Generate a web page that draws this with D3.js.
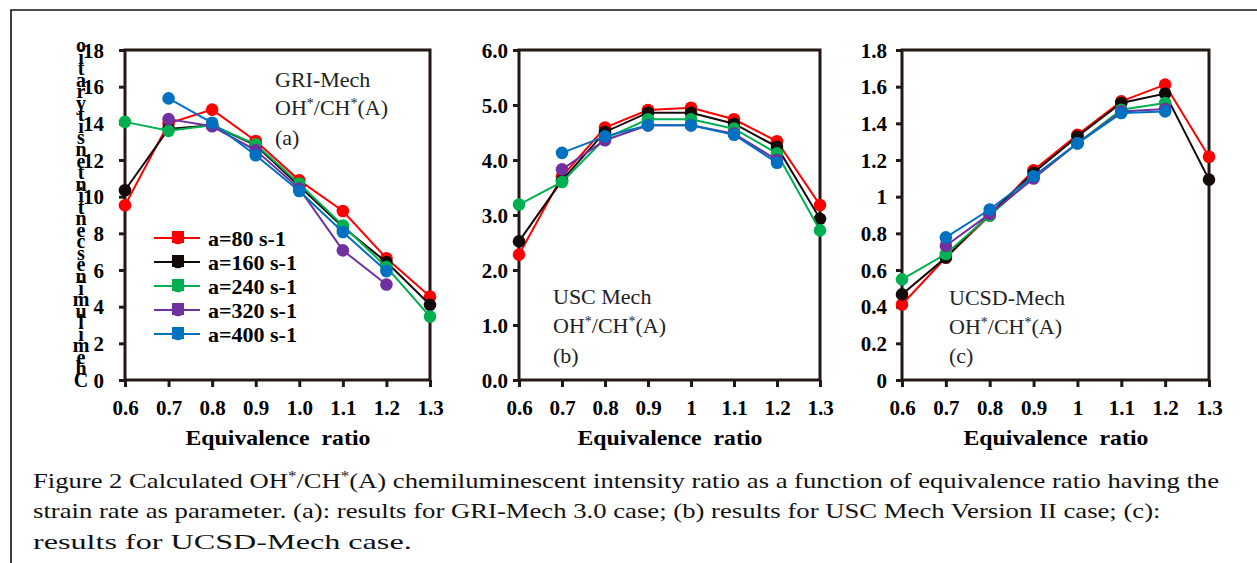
<!DOCTYPE html>
<html><head><meta charset="utf-8">
<script src="https://cdn.jsdelivr.net/npm/d3@7"></script>
<style>body{margin:0;background:#fff}svg{display:block}svg text{font-family:"Liberation Serif","Times New Roman","DejaVu Serif",serif}</style>
</head><body>
<svg id="c" width="1257" height="563"></svg>
<script>
const phi = [0.6,0.7,0.8,0.9,1.0,1.1,1.2,1.3];
const seriesNames = ["a=80 s-1","a=160 s-1","a=240 s-1","a=320 s-1","a=400 s-1"];
const seriesColors = ["#ff0000","#140a0a","#00b050","#7030a0","#0070c0"];
// Panel (a) GRI-Mech
const gri80  = [9.53,14.0,14.75,13.04,10.89,9.22,6.64,4.55];
const gri160 = [10.35,13.7,13.9,12.8,10.58,8.34,6.43,4.1];
const gri240 = [14.08,13.59,13.9,12.86,10.71,8.43,6.16,3.46];
const gri320 = [null,14.23,13.84,12.53,10.44,7.07,5.21,null];
const gri400 = [null,15.36,14.03,12.26,10.31,8.07,5.94,null];
// Panel (b) USC Mech
const usc80  = [2.28,3.7,4.59,4.91,4.95,4.74,4.34,3.18];
const usc160 = [2.52,3.63,4.51,4.86,4.86,4.66,4.24,2.93];
const usc240 = [3.19,3.6,4.39,4.74,4.74,4.57,4.12,2.72];
const usc320 = [null,3.83,4.36,4.63,4.63,4.48,4.0,null];
const usc400 = [null,4.13,4.43,4.63,4.63,4.46,3.95,null];
// Panel (c) UCSD-Mech
const ucsd80  = [0.412,0.668,0.897,1.144,1.337,1.52,1.611,1.218];
const ucsd160 = [0.467,0.668,0.906,1.13,1.328,1.511,1.562,1.093];
const ucsd240 = [0.549,0.687,0.897,1.108,1.291,1.474,1.511,null];
const ucsd320 = [null,0.732,0.906,1.099,1.291,1.465,1.478,null];
const ucsd400 = [null,0.778,0.930,1.111,1.291,1.456,1.465,null];

const xTickA = ["0.6","0.7","0.8","0.9","1.0","1.1","1.2","1.3"];
const xTickBC = ["0.6","0.7","0.8","0.9","1","1.1","1.2","1.3"];
const yTickA = [0,2,4,6,8,10,12,14,16,18];
const yTickB = [0,1,2,3,4,5,6];
const yTickC = [0,0.2,0.4,0.6,0.8,1,1.2,1.4,1.6,1.8];
const yLabelA = ["0","2","4","6","8","10","12","14","16","18"];
const yLabelB = ["0.0","1.0","2.0","3.0","4.0","5.0","6.0"];
const yLabelC = ["0","0.2","0.4","0.6","0.8","1","1.2","1.4","1.6","1.8"];
const panelNotes = [["GRI-Mech","OH*/CH*(A)","(a)"],["USC Mech","OH*/CH*(A)","(b)"],["UCSD-Mech","OH*/CH*(A)","(c)"]];
const yAxisTitle = "Chemiluminescent intensity ratio";
const xAxisTitle = "Equivalence  ratio";
const caption = [
 [["Figure 2 Calculated OH",0],["*",1],["/CH",0],["*",1],["(A) chemiluminescent intensity ratio as a function of equivalence ratio having the",0]],
 [["strain rate as parameter. (a): results for GRI-Mech 3.0 case; (b) results for USC Mech Version II case; (c):",0]],
 [["results for UCSD-Mech case.",0]]
];
const captionWidths = [1187,1128,379];

const svg = d3.select("#c");
const axisCol = "#231815";

// stretch a text horizontally to a target width, anchored at its left x
function fitWidth(sel, x0, w){
  const n = sel.node(); const len = n.getComputedTextLength();
  if(len>0){ const s = w/len; sel.attr("transform",`translate(${x0},0) scale(${s},1) translate(${-x0},0)`); }
}

svg.append("path").attr("d","M1257,10H11V563").attr("fill","none").attr("stroke","#111").attr("stroke-width",1.6);

const panels = [
 {x0:125,x1:430,max:18,ticks:yTickA,labels:yLabelA,xl:xTickA,data:[gri80,gri160,gri240,gri320,gri400],lblGap:21,note:{x:275,y:[87,115,145]}},
 {x0:519,x1:820,max:6,ticks:yTickB,labels:yLabelB,xl:xTickBC,data:[usc80,usc160,usc240,usc320,usc400],lblGap:11,note:{x:553,y:[304,333,363]}},
 {x0:902,x1:1209,max:1.8,ticks:yTickC,labels:yLabelC,xl:xTickBC,data:[ucsd80,ucsd160,ucsd240,ucsd320,ucsd400],lblGap:15,note:{x:949,y:[305,334,363]}}
];
const yTop=50, yBot=380;

panels.forEach((p,pi)=>{
  const g = svg.append("g");
  const x = d3.scalePoint().domain(phi.map(String)).range([p.x0,p.x1]);
  const y = d3.scaleLinear().domain([0,p.max]).range([yBot,yTop]);
  g.append("rect").attr("x",p.x0).attr("y",yTop).attr("width",p.x1-p.x0).attr("height",yBot-yTop)
   .attr("fill","none").attr("stroke",axisCol).attr("stroke-width",3);
  const ya = d3.axisLeft(y).tickValues(p.ticks).tickSize(6).tickFormat((d,i)=>p.labels[i]);
  const yg = g.append("g").attr("transform",`translate(${p.x0},0)`).call(ya);
  yg.attr("font-family",null).attr("font-size",null);
  yg.select(".domain").remove();
  yg.selectAll("line").attr("stroke",axisCol).attr("stroke-width",3);
  yg.selectAll("text").attr("x",-p.lblGap).attr("dy","0.34em").attr("font-weight","bold").attr("font-size",21).attr("fill","#000");
  const xa = d3.axisBottom(x).tickSize(7).tickFormat((d,i)=>p.xl[i]);
  const xg = g.append("g").attr("transform",`translate(0,${yBot})`).call(xa);
  xg.attr("font-family",null).attr("font-size",null);
  xg.select(".domain").remove();
  xg.selectAll("line").attr("stroke",axisCol).attr("stroke-width",3);
  xg.selectAll("text").attr("y",20).attr("dy","0.71em").attr("font-weight","bold").attr("font-size",21).attr("fill","#000");
  const xt = g.append("text").attr("x",(p.x0+p.x1)/2 - 92).attr("y",445)
   .attr("font-weight","bold").attr("font-size",21)
   .style("white-space","pre").text(xAxisTitle);
  fitWidth(xt,(p.x0+p.x1)/2 - 92,185);
  panelNotes[pi].forEach((t,k)=>{
    const tx = g.append("text").attr("x",p.note.x).attr("y",p.note.y[k]).attr("font-size",22).attr("fill","#222");
    if(t.includes("*")){
      const parts = t.split("*");
      parts.forEach((s,j)=>{
        tx.append("tspan").text(s);
        if(j<parts.length-1) tx.append("tspan").attr("baseline-shift","super").attr("font-size",14).text("*");
      });
    } else tx.text(t);
  });
  p.data.forEach((vals,si)=>{
    const pts = phi.map((f,i)=>({f:String(f),v:vals[i]})).filter(d=>d.v!=null);
    const line = d3.line().x(d=>x(d.f)).y(d=>y(d.v));
    g.append("path").attr("d",line(pts)).attr("fill","none").attr("stroke",seriesColors[si]).attr("stroke-width",2);
    g.selectAll(null).data(pts).enter().append("circle")
     .attr("cx",d=>x(d.f)).attr("cy",d=>y(d.v)).attr("r",6.3).attr("fill",seriesColors[si]);
  });
});

const lg = svg.append("g");
seriesNames.forEach((n,i)=>{
  const yy = 238 + i*24;
  lg.append("line").attr("x1",154).attr("x2",200).attr("y1",yy).attr("y2",yy).attr("stroke",seriesColors[i]).attr("stroke-width",2);
  lg.append("rect").attr("x",172).attr("y",yy-7).attr("width",12).attr("height",12).attr("fill",seriesColors[i]);
  lg.append("circle").attr("cx",178).attr("cy",yy).attr("r",6.3).attr("fill",seriesColors[i]);
  lg.append("text").attr("x",208).attr("y",yy).attr("dy","0.35em").attr("font-weight","bold").attr("font-size",22).text(n);
});

const letters = yAxisTitle.replace(/ /g,"").split("");
const ly = d3.scaleLinear().domain([0,letters.length-1]).range([380,45]);
svg.append("g").selectAll("text").data(letters).enter().append("text")
  .attr("x",81).attr("y",(d,i)=>ly(i)).attr("dy","0.35em").attr("text-anchor","middle")
  .attr("font-weight","bold").attr("font-size",20).text(d=>d);

caption.forEach((line,i)=>{
  const t = svg.append("text").attr("x",33).attr("y",488+i*30.5).attr("font-size",22).attr("fill","#111");
  line.forEach(([s,sup])=>{
    const ts = t.append("tspan").text(s);
    if(sup) ts.attr("baseline-shift","super").attr("font-size",14);
  });
  fitWidth(t,33,captionWidths[i]);
});
</script>
</body></html>
